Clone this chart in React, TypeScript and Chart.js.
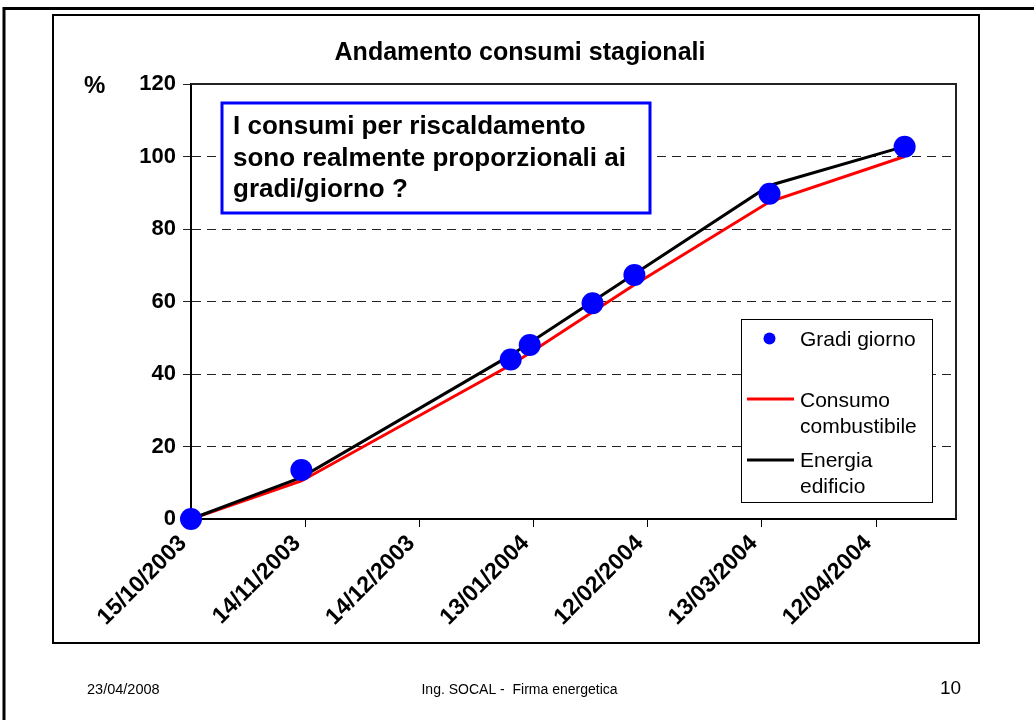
import React, { useEffect, useRef } from 'react';
import { Chart, registerables } from 'chart.js';

Chart.register(...registerables);

const FONT = "'Liberation Sans', Arial, Helvetica, sans-serif";

// ---- data ----
const tickDays = [0, 30, 60, 90, 120, 150, 180];
const tickLabels = ['15/10/2003', '14/11/2003', '14/12/2003', '13/01/2004', '12/02/2004', '13/03/2004', '12/04/2004'];
const yTicks = [0, 20, 40, 60, 80, 100, 120];
const sampleDays = [0, 29, 84, 89, 105.5, 116.5, 152, 187.5];
const gradiGiorno = [0, 13.5, 44, 48, 59.5, 67.3, 89.7, 102.7];
const consumoCombustibile = [0, 10.5, 42.5, 45.8, 57.1, 64.6, 87.5, 100];
const energiaEdificio = [0, 11.5, 45.2, 48.6, 60, 67.6, 92, 102.8];

const chartTitle = 'Andamento consumi stagionali';
const yUnit = '%';
const noteLines = ['I consumi per riscaldamento', 'sono realmente proporzionali ai', 'gradi/giorno ?'];
const legendLines = [['Gradi giorno'], ['Consumo', 'combustibile'], ['Energia', 'edificio']];
const footerLeft = '23/04/2008';
const footerCenter = 'Ing. SOCAL -  Firma energetica';
const footerRight = '10';

const toPoints = (vals: number[]) => vals.map((v, i) => ({ x: sampleDays[i], y: v }));

const decorPlugin = {
  id: 'decor',
  afterDatasetsDraw(chart: any) {
    const ctx: CanvasRenderingContext2D = chart.ctx;
    const a = chart.chartArea;
    ctx.save();
    // plot area border (top/right)
    ctx.strokeStyle = '#222';
    ctx.lineWidth = 2;
    ctx.beginPath();
    ctx.moveTo(a.left, a.top); ctx.lineTo(a.right, a.top); ctx.lineTo(a.right, a.bottom);
    ctx.stroke();
    ctx.restore();
  },
  afterDraw(chart: any) {
    const ctx: CanvasRenderingContext2D = chart.ctx;
    ctx.save();

    // note box
    ctx.fillStyle = '#fff';
    ctx.fillRect(222, 103, 428, 110);
    ctx.strokeStyle = '#0000ff';
    ctx.lineWidth = 3;
    ctx.strokeRect(222, 103, 428, 110);
    ctx.fillStyle = '#000';
    ctx.font = `bold 26px ${FONT}`;
    ctx.textAlign = 'left';
    ctx.textBaseline = 'alphabetic';
    const noteBase = [134, 166, 197];
    noteLines.forEach((t, i) => ctx.fillText(t, 233, noteBase[i]));

    // legend
    ctx.fillStyle = '#fff';
    ctx.fillRect(741, 319.5, 191, 183);
    ctx.strokeStyle = '#000';
    ctx.lineWidth = 1;
    ctx.strokeRect(741.5, 319.5, 191, 183);
    const ds = chart.data.datasets;
    ctx.fillStyle = ds[0].backgroundColor;
    ctx.beginPath();
    ctx.arc(769.5, 338.5, 6, 0, Math.PI * 2);
    ctx.fill();
    ctx.lineWidth = 3;
    ctx.strokeStyle = ds[2].borderColor;
    ctx.beginPath(); ctx.moveTo(747, 399); ctx.lineTo(794, 399); ctx.stroke();
    ctx.strokeStyle = ds[1].borderColor;
    ctx.beginPath(); ctx.moveTo(747, 460); ctx.lineTo(794, 460); ctx.stroke();
    ctx.fillStyle = '#000';
    ctx.font = `21px ${FONT}`;
    const legBase = [[345.7], [406.7, 433.3], [466.7, 492.7]];
    legendLines.forEach((lines, i) => lines.forEach((t, j) => ctx.fillText(t, 800, legBase[i][j])));

    // title and unit
    ctx.font = `bold 25px ${FONT}`;
    ctx.textAlign = 'center';
    ctx.textBaseline = 'middle';
    ctx.fillText(chartTitle, 520, 53);
    ctx.font = `bold 24px ${FONT}`;
    ctx.textAlign = 'left';
    ctx.fillText(yUnit, 84, 86);

    // chart frame
    ctx.strokeStyle = '#000';
    ctx.lineWidth = 2;
    ctx.strokeRect(53, 15, 926, 628);

    // slide border
    ctx.lineWidth = 3;
    ctx.beginPath();
    ctx.moveTo(4, 720); ctx.lineTo(4, 8.5); ctx.lineTo(1034, 8.5);
    ctx.stroke();

    // footer
    ctx.font = `14.5px ${FONT}`;
    ctx.textBaseline = 'middle';
    ctx.textAlign = 'left';
    ctx.fillText(footerLeft, 87, 690);
    ctx.font = `14px ${FONT}`;
    ctx.textAlign = 'center';
    ctx.fillText(footerCenter, 519.5, 690);
    ctx.font = `19px ${FONT}`;
    ctx.textAlign = 'left';
    ctx.fillText(footerRight, 940, 689);

    ctx.restore();
  },
};

export default function App() {
  const ref = useRef<HTMLCanvasElement | null>(null);
  useEffect(() => {
    if (!ref.current) return;
    const chart = new Chart(ref.current, {
      type: 'scatter',
      data: {
        datasets: [
          {
            label: 'Gradi giorno',
            data: toPoints(gradiGiorno),
            showLine: false,
            pointRadius: 11,
            pointHoverRadius: 11,
            backgroundColor: '#0000ff',
            borderWidth: 0,
            clip: false,
            order: 0,
          },
          {
            label: 'Energia edificio',
            data: toPoints(energiaEdificio),
            showLine: true,
            borderColor: '#000000',
            backgroundColor: '#000000',
            borderWidth: 3,
            pointRadius: 0,
            clip: false,
            order: 1,
          },
          {
            label: 'Consumo combustibile',
            data: toPoints(consumoCombustibile),
            showLine: true,
            borderColor: '#ff0000',
            backgroundColor: '#ff0000',
            borderWidth: 3,
            pointRadius: 0,
            clip: false,
            order: 2,
          },
        ],
      } as any,
      options: {
        animation: false,
        responsive: false,
        events: [],
        layout: { padding: { left: 53, right: 78, top: 84, bottom: 0 } },
        plugins: { legend: { display: false }, tooltip: { enabled: false }, title: { display: false } },
        scales: {
          x: {
            type: 'linear',
            min: 0,
            max: 201,
            afterBuildTicks: (s: any) => { s.ticks = tickDays.map((v) => ({ value: v })); },
            afterFit: (s: any) => { s.height = 201; s.paddingLeft = 0; s.paddingRight = 0; },
            ticks: {
              autoSkip: false,
              minRotation: 45,
              maxRotation: 45,
              padding: 3,
              labelOffset: -8,
              color: '#000',
              font: { family: FONT, size: 23, weight: 'bold' },
              callback: (_v: any, i: number) => tickLabels[i],
            },
            grid: { drawOnChartArea: false, drawTicks: true, tickLength: 8, color: '#000', lineWidth: 1 },
            border: { display: true, color: '#000', width: 2 },
          },
          y: {
            type: 'linear',
            min: 0,
            max: 120,
            afterBuildTicks: (s: any) => { s.ticks = yTicks.map((v) => ({ value: v })); },
            afterFit: (s: any) => { s.width = 138; s.paddingTop = 0; s.paddingBottom = 0; },
            ticks: {
              padding: 7,
              color: '#000',
              font: { family: FONT, size: 22, weight: 'bold' },
            },
            grid: { color: '#222', lineWidth: 1, tickLength: 8, tickBorderDash: [] },
            border: { display: true, color: '#000', width: 2, dash: [9, 6] },
          },
        },
      } as any,
      plugins: [decorPlugin],
    });
    return () => chart.destroy();
  }, []);
  return (
    <div style={{ position: 'absolute', left: 0, top: 0, width: 1034, height: 720, background: '#fff' }}>
      <canvas ref={ref} width={1034} height={720} style={{ display: 'block' }} />
    </div>
  );
}
